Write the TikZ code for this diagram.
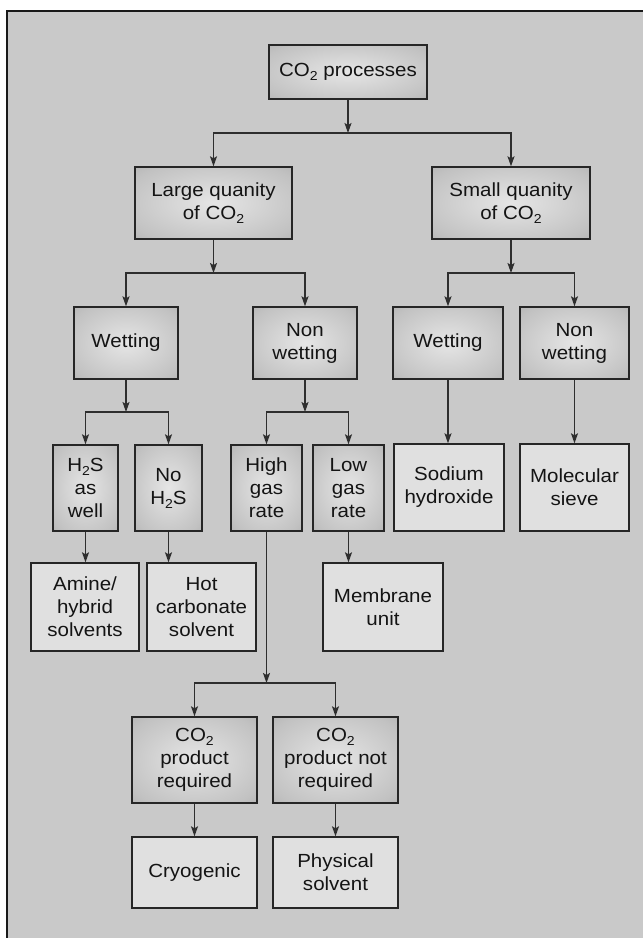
\documentclass[tikz,border=0pt]{standalone}
\usepackage{fontspec}
\setmainfont[FakeStretch=1.08]{Liberation Sans}
\usetikzlibrary{arrows.meta}
\pgfdeclareradialshading{boxshade}{\pgfpoint{0bp}{0bp}}{color(0bp)=(black!10); color(30bp)=(black!24); color(50bp)=(black!38); color(72bp)=(black!40)}
\newcommand{\subtwo}{\raisebox{-4pt}{\fontsize{13}{13}\selectfont 2}}
\tikzset{
  lab/.style={font=\fontsize{19}{23}\selectfont, align=center, inner sep=0pt,
              draw=black!85, line width=1.4pt, text=black!92},
  dec/.style={lab, shade, shading=boxshade},
  leaf/.style={lab, fill=black!12},
  arr/.style={-{Stealth[length=10pt,width=7pt,inset=2pt]}, line width=1.2pt, draw=black!82},
}
\begin{document}
\begin{tikzpicture}[x=1pt,y=-1pt]
\useasboundingbox (0,0) rectangle (643,938);
\fill[white] (0,0) rectangle (643,938);
\fill[black!21] (7,11) rectangle (643,938);
\draw[line width=2pt, black!90] (7,938) -- (7,11) -- (643,11);

% decision boxes
\node[dec, minimum width=158pt, minimum height=54pt] (proc) at (348,72) {CO\subtwo{} processes};
\node[dec, minimum width=157pt, minimum height=72pt] (large) at (213.5,203) {Large quanity\\of CO\subtwo};
\node[dec, minimum width=158pt, minimum height=72pt] (small) at (511,203) {Small quanity\\of CO\subtwo};
\node[dec, minimum width=104pt, minimum height=72pt] (wetL) at (126,343) {Wetting};
\node[dec, minimum width=104pt, minimum height=72pt] (nonL) at (305,343) {Non\\wetting};
\node[dec, minimum width=110pt, minimum height=72pt] (wetS) at (448,343) {Wetting};
\node[dec, minimum width=109pt, minimum height=72pt] (nonS) at (574.5,343) {Non\\wetting};
\node[dec, minimum width=65pt, minimum height=86pt] (h2s) at (85.5,488) {H\subtwo S\\as\\well};
\node[dec, minimum width=67pt, minimum height=86pt] (noh2s) at (168.5,488) {No\\H\subtwo S};
\node[dec, minimum width=71pt, minimum height=86pt] (high) at (266.5,488) {High\\gas\\rate};
\node[dec, minimum width=71pt, minimum height=86pt] (low) at (348.5,488) {Low\\gas\\rate};
\node[dec, minimum width=125pt, minimum height=86pt] (req) at (194.5,760) {CO\subtwo\\product\\required};
\node[dec, minimum width=125pt, minimum height=86pt] (notreq) at (335.5,760) {CO\subtwo\\product not\\required};

% leaf boxes
\node[leaf, minimum width=110pt, minimum height=87pt] (sodium) at (449,487.5) {Sodium\\hydroxide};
\node[leaf, minimum width=109pt, minimum height=87pt] (molec) at (574.5,487.5) {Molecular\\sieve};
\node[leaf, minimum width=108pt, minimum height=88pt] (amine) at (85,607) {Amine/\\hybrid\\solvents};
\node[leaf, minimum width=109pt, minimum height=88pt] (hot) at (201.5,607) {Hot\\carbonate\\solvent};
\node[leaf, minimum width=120pt, minimum height=88pt] (membrane) at (383,607) {Membrane\\unit};
\node[leaf, minimum width=125pt, minimum height=71pt] (cryo) at (194.5,872.5) {Cryogenic};
\node[leaf, minimum width=125pt, minimum height=71pt] (phys) at (335.5,872.5) {Physical\\solvent};

% junctions
\coordinate (j0) at (348,133);
\coordinate (j1) at (213.5,273);
\coordinate (j2) at (511,273);
\coordinate (j3) at (126,412);
\coordinate (j4) at (305,412);
\coordinate (j5) at (266.5,683);

\draw[arr] (proc) -- (j0);
\draw[arr] (j0) -| (large);
\draw[arr] (j0) -| (small);
\draw[arr] (large) -- (j1);
\draw[arr] (j1) -| (wetL);
\draw[arr] (j1) -| (nonL);
\draw[arr] (small) -- (j2);
\draw[arr] (j2) -| (wetS);
\draw[arr] (j2) -| (nonS);
\draw[arr] (wetL) -- (j3);
\draw[arr] (j3) -| (h2s);
\draw[arr] (j3) -| (noh2s);
\draw[arr] (nonL) -- (j4);
\draw[arr] (j4) -| (high);
\draw[arr] (j4) -| (low);
\draw[arr] (high) -- (j5);
\draw[arr] (j5) -| (req);
\draw[arr] (j5) -| (notreq);

\draw[arr] (h2s.south) -- (h2s.south |- amine.north);
\draw[arr] (noh2s.south) -- (noh2s.south |- hot.north);
\draw[arr] (low.south) -- (low.south |- membrane.north);
\draw[arr] (wetS.south) -- (wetS.south |- sodium.north);
\draw[arr] (nonS.south) -- (nonS.south |- molec.north);
\draw[arr] (req) -- (cryo);
\draw[arr] (notreq) -- (phys);
\end{tikzpicture}
\end{document}
